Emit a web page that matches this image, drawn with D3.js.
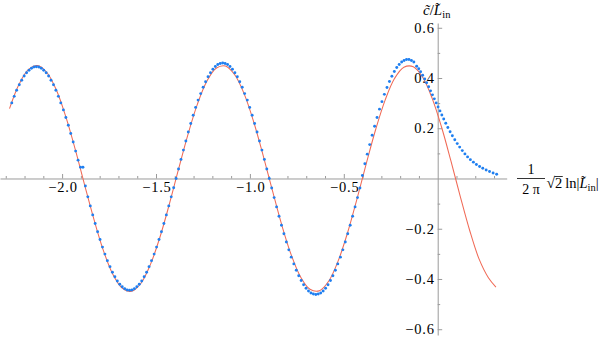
<!DOCTYPE html>
<html><head><meta charset="utf-8">
<script src="https://cdn.jsdelivr.net/npm/d3@7"></script>
<style>body{margin:0;background:#fff;} svg{display:block;} svg text{font-family:"Liberation Serif","Times New Roman",Times,serif;}</style>
</head><body>
<svg id="chart" width="599" height="337"></svg>
<script>
// ---- data ----
const redX = [-2.28,-2.23,-2.18,-2.13,-2.08,-2.03,-1.98,-1.93,-1.88,-1.83,-1.78,-1.73,-1.68,-1.63,-1.58,-1.53,-1.48,-1.43,-1.38,-1.33,-1.28,-1.23,-1.18,-1.13,-1.08,-1.03,-0.98,-0.93,-0.88,-0.83,-0.78,-0.73,-0.68,-0.63,-0.58,-0.53,-0.48,-0.43,-0.38,-0.33,-0.28,-0.23,-0.18,-0.13,-0.08,-0.03,0.02,0.07,0.12,0.17,0.22,0.27,0.31];
const redY = [0.278,0.374,0.433,0.450,0.421,0.351,0.245,0.116,-0.026,-0.164,-0.287,-0.381,-0.436,-0.449,-0.417,-0.343,-0.236,-0.105,0.037,0.175,0.295,0.386,0.439,0.448,0.412,0.336,0.226,0.093,-0.048,-0.186,-0.304,-0.392,-0.441,-0.447,-0.408,-0.328,-0.216,-0.082,0.060,0.196,0.312,0.398,0.443,0.445,0.403,0.320,0.206,0.071,-0.071,-0.206,-0.320,-0.395,-0.432];

const blueX = [-2.268,-2.255,-2.242,-2.228,-2.215,-2.202,-2.189,-2.176,-2.163,-2.150,
-2.137,-2.124,-2.111,-2.098,-2.085,-2.072,-2.059,-2.046,-2.033,-2.020,
-2.007,-1.993,-1.980,-1.967,-1.954,-1.941,-1.928,-1.915,-1.902,-1.889,
-1.876,-1.863,-1.850,-1.837,-1.824,-1.811,-1.798,-1.785,-1.772,-1.759,
-1.745,-1.732,-1.719,-1.706,-1.693,-1.680,-1.667,-1.654,-1.641,-1.628,
-1.615,-1.602,-1.589,-1.576,-1.563,-1.550,-1.537,-1.524,-1.510,-1.497,
-1.484,-1.471,-1.458,-1.445,-1.432,-1.419,-1.406,-1.393,
-1.380,-1.367,-1.354,-1.341,-1.328,-1.315,-1.302,-1.289,-1.276,-1.262,
-1.249,-1.236,-1.223,-1.210,-1.197,-1.184,-1.171,-1.158,-1.145,
-1.132,-1.119,-1.106,-1.093,-1.080,-1.067,-1.054,-1.041,-1.028,-1.014,
-1.001,-0.988,-0.975,-0.962,-0.949,-0.936,-0.923,-0.910,-0.897,
-0.884,-0.871,-0.858,-0.845,-0.832,-0.819,-0.806,-0.793,-0.780,-0.766,
-0.753,-0.740,-0.727,-0.714,-0.701,-0.688,-0.675,-0.662,-0.649,
-0.636,-0.623,-0.610,-0.597,-0.584,-0.571,-0.558,-0.545,-0.532,-0.518,
-0.505,-0.492,-0.479,-0.466,-0.453,-0.440,-0.427,-0.414,-0.401,
-0.388,-0.375,-0.362,-0.349,-0.336,-0.323,-0.310,-0.297,-0.284,-0.270,
-0.257,-0.244,-0.231,-0.218,-0.205,-0.192,-0.179,-0.166,-0.153,-0.140,-0.127,
-0.112,-0.101,-0.091,-0.080,-0.069,-0.059,-0.048,-0.038,-0.028,-0.018,
-0.008,0.002,0.012,0.022,0.032,0.043,0.054,0.066,0.078,0.091,
0.104,0.117,0.131,0.145,0.159,0.174,0.190,0.206,0.223,0.240,
0.258,0.276,0.295,0.314];
const blueY = [0.301,0.327,0.351,0.373,0.391,0.408,0.421,0.431,0.439,0.444,
0.445,0.444,0.439,0.431,0.421,0.408,0.391,0.373,0.351,0.327,
0.301,0.273,0.243,0.212,0.179,0.145,0.109,0.073,0.045,0.045,
-0.030,-0.073,-0.109,-0.145,-0.179,-0.212,-0.243,-0.273,-0.301,-0.327,
-0.351,-0.373,-0.391,-0.408,-0.421,-0.431,-0.439,-0.444,-0.445,-0.444,
-0.439,-0.431,-0.421,-0.408,-0.391,-0.373,-0.351,-0.327,-0.301,-0.273,
-0.243,-0.212,-0.179,-0.145,-0.109,-0.073,-0.037,0.000,
0.038,0.076,0.113,0.149,0.185,0.219,0.252,0.283,0.312,0.338,
0.363,0.385,0.405,0.421,0.435,0.446,0.454,0.458,0.460,
0.458,0.454,0.446,0.435,0.421,0.405,0.385,0.363,0.338,0.312,
0.283,0.252,0.219,0.185,0.149,0.113,0.076,0.038,0.000,
-0.038,-0.076,-0.113,-0.150,-0.186,-0.220,-0.253,-0.284,-0.313,-0.340,
-0.365,-0.387,-0.406,-0.423,-0.437,-0.448,-0.456,-0.460,-0.462,
-0.460,-0.456,-0.448,-0.437,-0.423,-0.406,-0.387,-0.365,-0.340,-0.313,
-0.284,-0.253,-0.220,-0.186,-0.150,-0.113,-0.076,-0.038,0.012,
0.059,0.097,0.135,0.172,0.208,0.243,0.276,0.306,0.335,0.362,
0.386,0.407,0.426,0.442,0.454,0.464,0.470,0.474,0.474,0.470,0.464,
0.447,0.437,0.425,0.411,0.396,0.381,0.365,0.349,0.333,0.317,
0.301,0.285,0.269,0.253,0.237,0.220,0.203,0.186,0.170,0.154,
0.139,0.125,0.111,0.098,0.086,0.075,0.065,0.056,0.048,0.041,
0.034,0.028,0.022,0.017];

const xMajorTicks = [-2.0,-1.5,-1.0,-0.5];
const xTickLabels = ["\u22122.0","\u22121.5","\u22121.0","\u22120.5"];
const xMinorTicks = [-2.3,-2.2,-2.1,-1.9,-1.8,-1.7,-1.6,-1.4,-1.3,-1.2,-1.1,-0.9,-0.8,-0.7,-0.6,-0.4,-0.3,-0.2,-0.1,0.1,0.2,0.3];
const yMajorTicks = [-0.6,-0.4,-0.2,0.2,0.4,0.6];
const yTickLabels = ["\u22120.6","\u22120.4","\u22120.2","0.2","0.4","0.6"];
const yMinorTicks = [-0.5,-0.3,-0.1,0.1,0.3,0.5];

// ---- drawing ----
const svg = d3.select("#chart");
const FONT = '"Liberation Serif","Times New Roman",Times,serif';
const x = d3.scaleLinear().domain([-2.3307, 0.3674]).range([0, 506.7]);
const y = d3.scaleLinear().domain([-0.623, 0.619]).range([335, 23]);
const axisColor = "#9a9a9a";

// x axis
const gx = svg.append("g").attr("transform", `translate(0,${y(0)})`);
gx.call(d3.axisBottom(x).tickValues(xMinorTicks).tickSize(-2.5).tickSizeOuter(0).tickFormat(""));
const gx2 = svg.append("g").attr("transform", `translate(0,${y(0)})`);
gx2.call(d3.axisBottom(x).tickValues(xMajorTicks).tickSize(-4.5).tickSizeOuter(0).tickPadding(3)
  .tickFormat((d,i)=>xTickLabels[i]));
gx2.select(".domain").remove();

// y axis
const gy = svg.append("g").attr("transform", `translate(${x(0)},0)`);
gy.call(d3.axisLeft(y).tickValues(yMinorTicks).tickSize(-2.5).tickSizeOuter(0).tickFormat(""));
const gy2 = svg.append("g").attr("transform", `translate(${x(0)},0)`);
gy2.call(d3.axisLeft(y).tickValues(yMajorTicks).tickSize(-4.5).tickSizeOuter(0).tickPadding(3)
  .tickFormat((d,i)=>yTickLabels[i]));
gy2.select(".domain").remove();

svg.selectAll("g").attr("font-family", null).attr("font-size", null);
svg.selectAll(".domain").attr("stroke", axisColor).attr("stroke-width", 1);
svg.selectAll(".tick line").attr("stroke", axisColor).attr("stroke-width", 1);
svg.selectAll(".tick text").style("font-family", FONT).style("font-size", "14.5px")
  .style("letter-spacing", "0.8px").attr("fill", "#000");
gx2.selectAll(".tick text").attr("dx", "0.4px");

// red curve
const redData = redX.map((v,i)=>[v, redY[i]]);
svg.append("path").datum(redData)
  .attr("fill","none").attr("stroke","#f06a56").attr("stroke-width",1.05)
  .attr("d", d3.line().x(d=>x(d[0])).y(d=>y(d[1])).curve(d3.curveCatmullRom.alpha(0.5)));

// blue points
const n = Math.min(blueX.length, blueY.length);
const blueData = d3.range(n).map(i=>[blueX[i], blueY[i]]);
svg.append("g").selectAll("circle").data(blueData).join("circle")
  .attr("cx", d=>x(d[0])).attr("cy", d=>y(d[1])).attr("r", 1.45).attr("fill", "#1f7ff0");

// helper: lay out inline pieces
function layout(g, pieces, x0, base) {
  let cx = x0;
  const nodes = [];
  pieces.forEach(p => {
    const t = g.append("text").attr("x", cx).attr("y", base + (p.dy||0))
      .style("font-family", FONT).style("font-size", p.size + "px")
      .style("font-style", p.italic ? "italic" : "normal").attr("fill","#000")
      .text(p.t);
    const w = t.node().getComputedTextLength();
    nodes.push({node:t, x:cx, w:w, p:p});
    cx += w + (p.gap||0);
  });
  return {nodes, end: cx};
}

// y axis title  c̃/L̃in
const yt = svg.append("g");
const ytl = layout(yt, [
  {t:"c\u0303", italic:true, size:15},
  {t:"/", size:15},
  {t:"L\u0303", italic:true, size:15},
  {t:"in", size:10.5, dy:3}
], 0, 15);
yt.attr("transform", `translate(${x(0) - ytl.end/2 - 1},0)`);

// x axis title: 1/(2π) √2 ln|L̃in|
const xt = svg.append("g");
xt.append("text").attr("x", 531).attr("y", 174).attr("text-anchor","middle")
  .style("font-family", FONT).style("font-size", "14px").text("1");
xt.append("line").attr("x1", 517).attr("x2", 545).attr("y1", 178.5).attr("y2", 178.5)
  .attr("stroke","#000").attr("stroke-width",0.8);
xt.append("text").attr("x", 531).attr("y", 193.5).attr("text-anchor","middle")
  .style("font-family", FONT).style("font-size", "14px").text("2 \u03c0");
const xl = layout(xt, [
  {t:"\u221a", size:15.5},
  {t:"2", size:14.5, gap:3},
  {t:"ln", size:14.5},
  {t:"|", size:14.5},
  {t:"L\u0303", italic:true, size:14.5},
  {t:"in", size:10.5, dy:3},
  {t:"|", size:14.5}
], 546.5, 188);
const two = xl.nodes[1];
xt.append("line").attr("x1", two.x - 0.5).attr("x2", two.x + two.w + 0.5)
  .attr("y1", 176.5).attr("y2", 176.5).attr("stroke","#000").attr("stroke-width",0.8);
</script>
</body></html>
